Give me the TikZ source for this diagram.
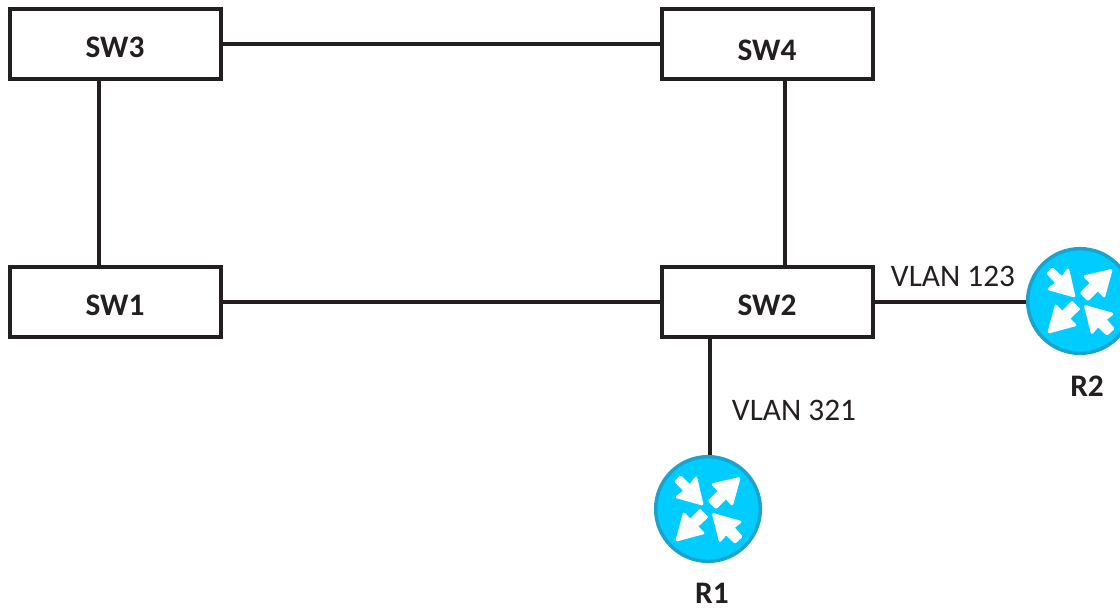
\documentclass[tikz,border=0pt]{standalone}
\usepackage{fontspec}
\setmainfont{Carlito}
\tikzset{
  x=0.75pt,y=-0.75pt,
  swbox/.style={draw=linec,line width=2.3pt,fill=white,minimum width=158.25pt,minimum height=52.5pt,inner sep=0pt},
  link/.style={draw=linec,line width=2.3pt},
  boldlabel/.style={font=\fontsize{23.5}{26}\selectfont\bfseries,text=linec,inner sep=0pt},
  vlanlabel/.style={font=\fontsize{23.5}{26}\selectfont,text=linec,inner sep=0pt},
  routernode/.style={circle,draw=routeredge,line width=2.6pt,fill=routerfill,minimum size=78.5pt,inner sep=0pt},
  arrowshape/.style={fill=white,draw=white,line width=2pt,line join=round},
  routerarrows/.pic={
    \path[arrowshape] (-6,-5) -- (-31,-12) -- (-23,-18) -- (-32,-27.5) -- (-27.5,-32) -- (-18,-23) -- (-12,-31) -- cycle;
    \path[arrowshape] (31,-30.5) -- (24,-5) -- (18,-11.5) -- (8,-1.5) -- (1.5,-8) -- (11.5,-18) -- (5,-24.5) -- cycle;
    \path[arrowshape] (-31,31) -- (-24,5) -- (-17.5,11.5) -- (-8,1.5) -- (-1.5,8) -- (-11.5,17.5) -- (-5,24) -- cycle;
    \path[arrowshape] (5.5,5.5) -- (32,13) -- (25,18.5) -- (33,27.5) -- (27,33) -- (18,24.5) -- (12,31.5) -- cycle;
  }
}
\definecolor{linec}{HTML}{231F20}
\definecolor{routerfill}{HTML}{00CCFF}
\definecolor{routeredge}{HTML}{1BA3CE}
\begin{document}
\begin{tikzpicture}
\useasboundingbox (0,0) rectangle (1120,607);
\clip (0,0) rectangle (1120,607);
\node[swbox] (sw3) at (115.5,44) {};
\node[swbox] (sw4) at (767.5,44) {};
\node[swbox] (sw1) at (115.5,302) {};
\node[swbox] (sw2) at (767.5,302) {};
\node[routernode] (r1) at (708,509) {};
\node[routernode] (r2) at (1080,301) {};
\pic at (r1) {routerarrows};
\pic at (r2) {routerarrows};
\coordinate (xa) at (99,0);
\coordinate (xb) at (785,0);
\coordinate (xc) at (710,0);
\draw[link] (sw3) -- (sw4);
\draw[link] (sw1) -- (sw2);
\draw[link] (xa |- sw3.south) -- (xa |- sw1.north);
\draw[link] (xb |- sw4.south) -- (xb |- sw2.north);
\draw[link] (sw2.east) -- (r2.west |- sw2.east);
\draw[link] (xc |- sw2.south) -- (xc |- r1.north);
\node[boldlabel] (t3) at (115,47) {SW3};
\node[boldlabel] (t4) at (767,50) {SW4};
\node[boldlabel] (t1) at (115,305) {SW1};
\node[boldlabel] (t2) at (767,305) {SW2};
\node[boldlabel] (tr1) at (712,593) {R1};
\node[boldlabel] (tr2) at (1087,386) {R2};
\node[vlanlabel] (v1) at (953,276) {VLAN 123};
\node[vlanlabel] (v2) at (794,410) {VLAN 321};
\end{tikzpicture}
\end{document}
